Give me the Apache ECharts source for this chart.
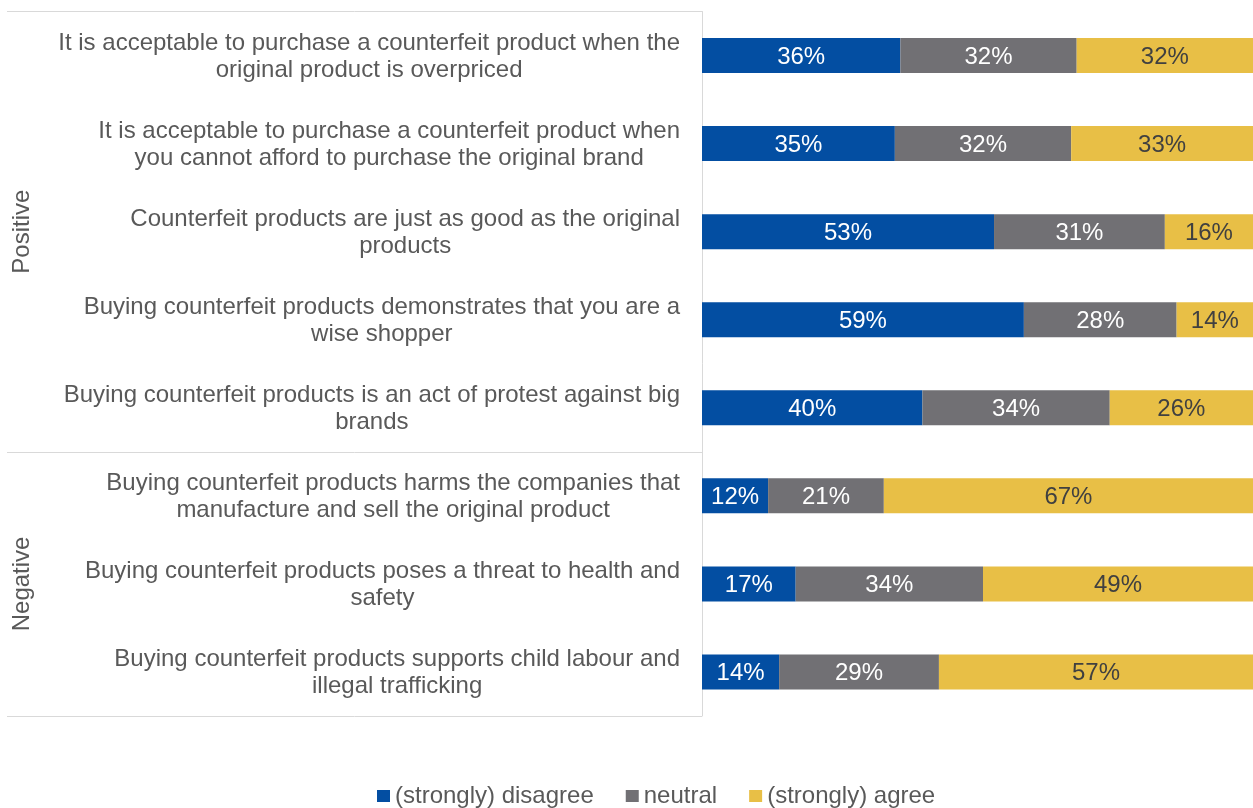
<!DOCTYPE html>
<html>
<head>
<meta charset="utf-8">
<script src="https://cdn.jsdelivr.net/npm/echarts@6/dist/echarts.min.js"></script>
<style>
  html, body { margin: 0; padding: 0; background: #fff; }
  #chart { width: 1253px; height: 808px; }
</style>
</head>
<body>
<div id="chart"></div>
<script>
// Survey statements (line breaks as laid out beside each bar)
const statements = [
  'It is acceptable to purchase a counterfeit product when the\noriginal product is overpriced',
  'It is acceptable to purchase a counterfeit product when\nyou cannot afford to purchase the original brand',
  'Counterfeit products are just as good as the original\nproducts',
  'Buying counterfeit products demonstrates that you are a\nwise shopper',
  'Buying counterfeit products is an act of protest against big\nbrands',
  'Buying counterfeit products harms the companies that\nmanufacture and sell the original product',
  'Buying counterfeit products poses a threat to health and\nsafety',
  'Buying counterfeit products supports child labour and\nillegal trafficking'
];

// Statement groups: first and last row index of each
const groupNames = ['Positive', 'Negative'];
const groupStart = [0, 5];
const groupEnd = [4, 7];

const seriesNames = ['(strongly) disagree', 'neutral', '(strongly) agree'];

// Shares of respondents, in percent
const disagree = [36, 35, 53, 59, 40, 12, 17, 14];
const neutral  = [32, 32, 31, 28, 34, 21, 34, 29];
const agree    = [32, 33, 16, 14, 26, 67, 49, 57];

const FONT = '"Liberation Sans", Arial, sans-serif';
const FONT_SIZE = 24;
const seriesValues = [disagree, neutral, agree];
const seriesColors = ['#034EA2', '#717074', '#E8BF46'];
const labelColors = ['#ffffff', '#ffffff', '#404040'];

// Each row is drawn as a 100% stacked bar (rounded shares may not add to exactly 100)
const rowTotals = statements.map((_, i) => disagree[i] + neutral[i] + agree[i]);

const chart = echarts.init(document.getElementById('chart'), null, { renderer: 'canvas' });

const series = seriesNames.map((name, s) => ({
  name: name,
  type: 'bar',
  stack: 'total',
  barWidth: 35,
  itemStyle: { color: seriesColors[s] },
  label: {
    show: true,
    position: 'inside',
    offset: [0, 1.5],
    color: labelColors[s],
    fontFamily: FONT,
    fontSize: FONT_SIZE,
    formatter: p => seriesValues[s][p.dataIndex] + '%'
  },
  emphasis: { disabled: true },
  data: seriesValues[s].map((v, i) => v / rowTotals[i] * 100)
}));

chart.setOption({
  animation: false,
  backgroundColor: '#ffffff',
  textStyle: { fontFamily: FONT },
  grid: { left: 702, right: 0, top: 11.5, bottom: 92, containLabel: false, outerBoundsMode: 'none' },
  legend: {
    data: seriesNames,
    top: 784,
    left: 377,
    padding: 0,
    icon: 'rect',
    itemWidth: 13,
    itemHeight: 12,
    itemGap: 32,
    textStyle: { color: '#595959', fontSize: FONT_SIZE, lineHeight: 24, fontFamily: FONT }
  },
  xAxis: {
    type: 'value',
    min: 0,
    max: 100,
    show: false
  },
  yAxis: {
    type: 'category',
    inverse: true,
    data: statements,
    axisLine: { show: true, lineStyle: { color: '#d9d9d9', width: 1 } },
    axisTick: {
      show: true,
      length: 695,
      interval: (idx) => groupStart.indexOf(idx) >= 0,
      lineStyle: { color: '#d9d9d9', width: 1 }
    },
    axisLabel: {
      interval: 0,
      margin: 22,
      align: 'right',
      formatter: v => v.split('\n').map(line => '{t|' + line + '}').join('\n'),
      rich: {
        t: { align: 'center', fontSize: FONT_SIZE, lineHeight: 27, color: '#595959', fontFamily: FONT, padding: [2, 0, 0, 0] }
      }
    },
    splitLine: { show: false }
  },
  series: series
});

// Rotated group titles centred on their rows
const groupGraphics = groupNames.map((name, g) => {
  const y0 = chart.convertToPixel({ yAxisIndex: 0 }, groupStart[g]);
  const y1 = chart.convertToPixel({ yAxisIndex: 0 }, groupEnd[g]);
  return {
    type: 'text',
    x: 22,
    y: (y0 + y1) / 2,
    rotation: Math.PI / 2,
    style: {
      text: name,
      fill: '#595959',
      font: FONT_SIZE + 'px ' + FONT,
      textAlign: 'center',
      textVerticalAlign: 'middle'
    }
  };
});
chart.setOption({ graphic: groupGraphics });
</script>
</body>
</html>
